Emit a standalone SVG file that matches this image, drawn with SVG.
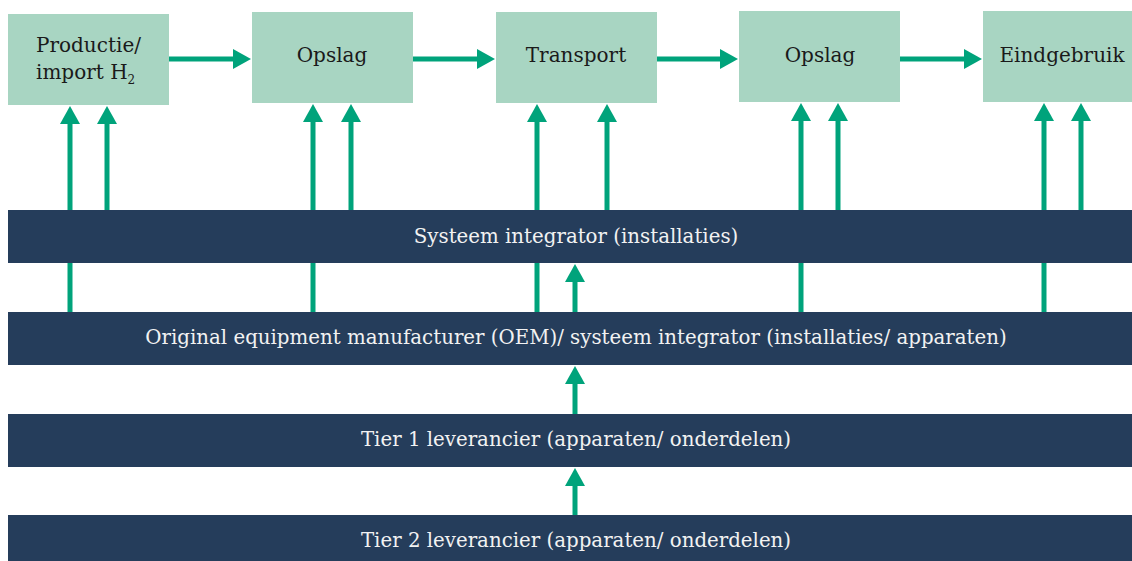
<svg xmlns="http://www.w3.org/2000/svg" width="1132" height="561" viewBox="0 0 1132 561">
<style>
.box{fill:#a8d5c2}
.bar{fill:#253d5b}
.t{font-family:"DejaVu Serif","Liberation Serif",serif;font-size:20px;fill:#1a1a1a}
.w{font-family:"DejaVu Serif","Liberation Serif",serif;font-size:19.8px;fill:#f2f2f2;text-anchor:middle}
.c{stroke:#00a37b;stroke-width:5;fill:none}
.a{marker-end:url(#ah)}
</style>
<defs>
<marker id="ah" markerUnits="userSpaceOnUse" markerWidth="18" markerHeight="20" refX="1" refY="10" orient="auto">
<path d="M0,0 L18,10 L0,20 z" fill="#00a37b"/>
</marker>
</defs>
<g id="connectors">
<line class="c a" x1="169" y1="59" x2="234" y2="59"/>
<line class="c a" x1="413" y1="59" x2="478" y2="59"/>
<line class="c a" x1="657" y1="59" x2="721" y2="59"/>
<line class="c a" x1="900" y1="59" x2="965" y2="59"/>
<line class="c a" x1="70" y1="312" x2="70" y2="123"/>
<line class="c a" x1="107" y1="210" x2="107" y2="123"/>
<line class="c a" x1="313" y1="312" x2="313" y2="121"/>
<line class="c a" x1="351" y1="210" x2="351" y2="121"/>
<line class="c a" x1="537" y1="312" x2="537" y2="121"/>
<line class="c a" x1="607" y1="210" x2="607" y2="121"/>
<line class="c a" x1="801" y1="312" x2="801" y2="120"/>
<line class="c a" x1="838" y1="210" x2="838" y2="120"/>
<line class="c a" x1="1044" y1="312" x2="1044" y2="120"/>
<line class="c a" x1="1081" y1="210" x2="1081" y2="120"/>
<line class="c a" x1="575" y1="312" x2="575" y2="281"/>
<line class="c a" x1="575" y1="414" x2="575" y2="383"/>
<line class="c a" x1="575" y1="515" x2="575" y2="485"/>
</g>
<g id="productie">
<rect class="box" x="8" y="14" width="161" height="91"/>
<text class="t" x="36" y="52">Productie/</text>
<text class="t" x="36" y="79">import H<tspan font-size="12" dy="5">2</tspan></text>
</g>
<g id="opslag1">
<rect class="box" x="252" y="12" width="161" height="91"/>
<text class="t" x="332" y="62" text-anchor="middle">Opslag</text>
</g>
<g id="transport">
<rect class="box" x="496" y="12" width="161" height="91"/>
<text class="t" x="576" y="62" text-anchor="middle">Transport</text>
</g>
<g id="opslag2">
<rect class="box" x="739" y="11" width="161" height="91"/>
<text class="t" x="820" y="62" text-anchor="middle">Opslag</text>
</g>
<g id="eindgebruik">
<rect class="box" x="983" y="11" width="149" height="91"/>
<text class="t" x="1062" y="62" text-anchor="middle">Eindgebruik</text>
</g>
<g id="systeemintegrator">
<rect class="bar" x="8" y="210" width="1124" height="53"/>
<text class="w" x="576" y="243">Systeem integrator (installaties)</text>
</g>
<g id="oem">
<rect class="bar" x="8" y="312" width="1124" height="53"/>
<text class="w" x="576" y="344">Original equipment manufacturer (OEM)/ systeem integrator (installaties/ apparaten)</text>
</g>
<g id="tier1">
<rect class="bar" x="8" y="414" width="1124" height="53"/>
<text class="w" x="576" y="446">Tier 1 leverancier (apparaten/ onderdelen)</text>
</g>
<g id="tier2">
<rect class="bar" x="8" y="515" width="1124" height="53"/>
<text class="w" x="576" y="547">Tier 2 leverancier (apparaten/ onderdelen)</text>
</g>
</svg>
